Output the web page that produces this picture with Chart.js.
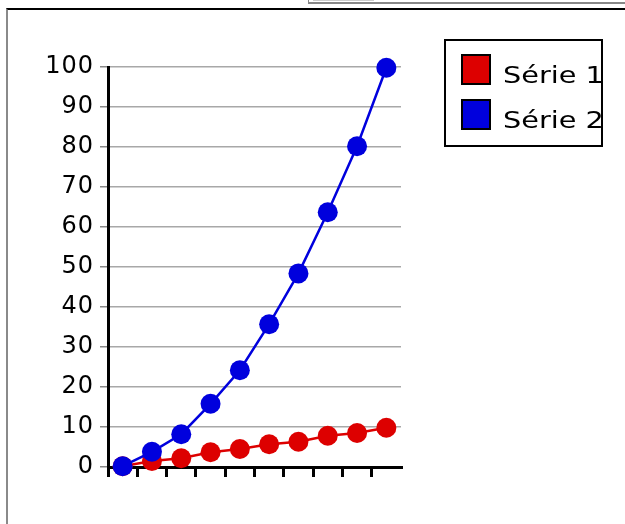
<!DOCTYPE html>
<html>
<head>
<meta charset="utf-8">
<script src="https://cdn.jsdelivr.net/npm/chart.js@4"></script>
<style>
  body { margin: 0; background: #fff; width: 625px; height: 524px; overflow: hidden; position: relative; font-family: "DejaVu Sans", sans-serif; }
  #frame { position: absolute; left: 6px; top: 8px; width: 700px; height: 600px; border-left: 2px solid #8a8a8a; border-top: 2px solid #000; }
  #tab { position: absolute; left: 308px; top: -2px; width: 330px; height: 4px; border-left: 1px solid #888; border-bottom: 2px solid #888; }
  #tabbar { position: absolute; left: 313px; top: 0; width: 61px; height: 1px; background: #ccc; }
  #wrap { position: absolute; left: 0; top: 0; width: 625px; height: 524px; }
  #legend { position: absolute; left: 444px; top: 39px; width: 155px; height: 104px; border: 2px solid #000; background: #fff; }
  .item { position: absolute; left: 15px; height: 31px; }
  .sw { position: absolute; left: 0; top: 0; width: 26px; height: 27px; border: 2px solid #000; }
  .lab { position: absolute; left: 42px; top: 7px; font-size: 23px; line-height: 28px; white-space: nowrap; transform: scaleX(1.25); transform-origin: left center; color: #000; }
</style>
</head>
<body>
<div id="tab"></div>
<div id="tabbar"></div>
<div id="frame"></div>
<div id="wrap"><canvas id="chart"></canvas></div>
<div id="legend"></div>
<script>
// Data
const categories = ["1", "2", "3", "4", "5", "6", "7", "8", "9", "10"];
const seriesNames = ["Série 1", "Série 2"];
const serie1 = [0.2, 1.5, 2.2, 3.7, 4.5, 5.7, 6.3, 7.8, 8.5, 9.8];
const serie2 = [0.2, 3.8, 8.2, 15.8, 24.2, 35.7, 48.4, 63.7, 80.2, 99.8];
const seriesColors = ["#dd0000", "#0000dd"];
const yTicks = [0, 10, 20, 30, 40, 50, 60, 70, 80, 90, 100];

function lineSet(name, values, color, order) {
  return {
    label: name,
    data: values,
    borderColor: color,
    backgroundColor: color,
    borderWidth: 2.5,
    pointRadius: 10,
    pointHoverRadius: 10,
    pointBorderWidth: 0,
    pointBackgroundColor: color,
    tension: 0,
    clip: false,
    order: order
  };
}

const data = {
  labels: categories,
  datasets: [
    lineSet(seriesNames[0], serie1, seriesColors[0], 2),
    lineSet(seriesNames[1], serie2, seriesColors[1], 1)
  ]
};

// the y labels in the picture are drawn wide, spread them a bit
const wideText = {
  id: 'wideText',
  beforeDraw: (chart) => { chart.ctx.letterSpacing = '1px'; }
};

const config = {
  type: 'line',
  data: data,
  plugins: [wideText],
  options: {
    responsive: true,
    maintainAspectRatio: false,
    animation: false,
    layout: { padding: { top: 67, right: 224, left: 0, bottom: 0 } },
    plugins: { legend: { display: false }, tooltip: { enabled: false } },
    scales: {
      x: {
        offset: true,
        afterFit: (s) => { s.height = 57; },
        ticks: { display: false },
        border: { color: '#000', width: 3 },
        grid: {
          offset: true,
          drawOnChartArea: false,
          drawTicks: true,
          tickLength: 10,
          tickWidth: 3,
          tickColor: (ctx) => ctx.tick ? '#000' : 'rgba(0,0,0,0)',
          color: '#000',
          lineWidth: 3
        }
      },
      y: {
        min: 0,
        max: 100,
        afterFit: (s) => { s.width = 108; },
        afterBuildTicks: (s) => { s.ticks = yTicks.map(v => ({ value: v })); },
        ticks: {
          color: '#000',
          padding: 6,
          font: { family: 'DejaVu Sans', size: 24 }
        },
        border: { color: '#000', width: 3 },
        grid: {
          color: '#a8a8a8',
          lineWidth: 1.5,
          drawTicks: true,
          tickLength: 8,
          tickColor: '#888'
        }
      }
    }
  }
};

// html legend with a boxed frame
const legend = document.getElementById('legend');
seriesNames.forEach((name, i) => {
  const item = document.createElement('div');
  item.className = 'item';
  item.style.top = (13 + i * 45) + 'px';
  item.innerHTML = '<div class="sw" style="background:' + seriesColors[i] + '"></div><div class="lab">' + name + '</div>';
  legend.appendChild(item);
});

window.addEventListener('DOMContentLoaded', () => {
  new Chart(document.getElementById('chart'), config);
});
</script>
</body>
</html>
